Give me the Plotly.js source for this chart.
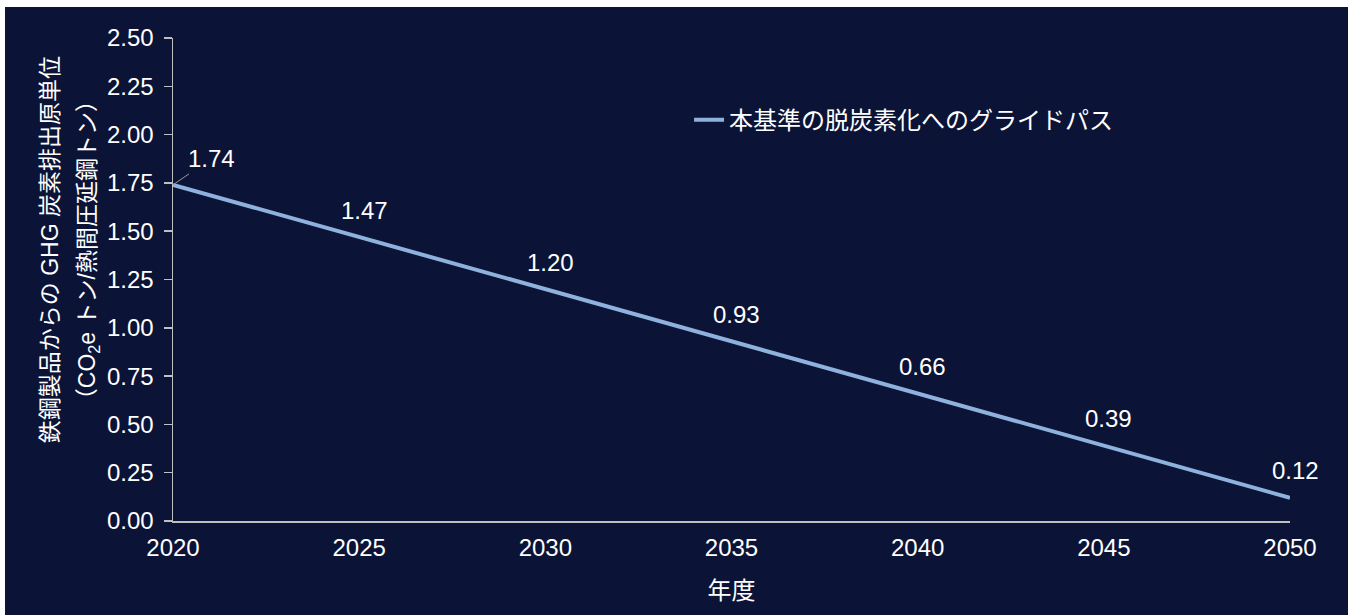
<!DOCTYPE html>
<html>
<head>
<meta charset="utf-8">
<script src="https://cdn.plot.ly/plotly-3.0.1.min.js"></script>
<style>
html,body{margin:0;padding:0;background:#ffffff;width:1354px;height:615px;overflow:hidden;}
#chart{position:absolute;left:5px;top:7px;width:1343px;height:608px;}
</style>
</head>
<body>
<div id="chart"></div>
<script>
const years = [2020, 2025, 2030, 2035, 2040, 2045, 2050];
const intensity = [1.74, 1.47, 1.20, 0.93, 0.66, 0.39, 0.12];
const seriesName = "本基準の脱炭素化へのグライドパス";
const yTickVals = [0, 0.25, 0.5, 0.75, 1.0, 1.25, 1.5, 1.75, 2.0, 2.25, 2.5];
const yTickText = ["0.00","0.25","0.50","0.75","1.00","1.25","1.50","1.75","2.00","2.25","2.50"];
const xTitle = "年度";
const yTitleLines = ["鉄鋼製品からの GHG 炭素排出原単位", "（CO<sub>2</sub>e トン/熱間圧延鋼トン）"];

const font = "Liberation Sans, Arial, Noto Sans CJK JP, sans-serif";
const bg = "#0b1437";
const fs = 24;

const annotations = years.map((yr, i) => {
  if (i === 0) {
    return {x: yr, y: intensity[i], text: intensity[i].toFixed(2), showarrow: true,
      arrowhead: 0, arrowwidth: 1, arrowcolor: "#9a9a9a", ax: 38, ay: -26, standoff: 0,
      font: {family: font, size: fs, color: "#ffffff"}};
  }
  return {x: yr, y: intensity[i], text: intensity[i].toFixed(2), showarrow: false,
    yshift: 27, xshift: 5, font: {family: font, size: fs, color: "#ffffff"}};
});
// y axis title, two lines
annotations.push({xref: "paper", yref: "paper", x: -0.110, y: 0.561, text: yTitleLines[0],
  textangle: -90, showarrow: false, xanchor: "center", yanchor: "middle",
  font: {family: font, size: 23, color: "#ffffff"}});
annotations.push({xref: "paper", yref: "paper", x: -0.076, y: 0.561, text: yTitleLines[1],
  textangle: -90, showarrow: false, xanchor: "center", yanchor: "middle",
  font: {family: font, size: 23, color: "#ffffff"}});

const trace = {x: years, y: intensity, type: "scatter", mode: "lines", name: seriesName,
  line: {color: "#8fb1dd", width: 4}, hoverinfo: "skip"};

const layout = {
  width: 1343, height: 608,
  paper_bgcolor: bg, plot_bgcolor: bg,
  margin: {l: 168, r: 58, t: 31, b: 94},
  font: {family: font, size: fs, color: "#ffffff"},
  showlegend: true,
  legend: {x: 0.462, y: 0.83, xanchor: "left", yanchor: "middle", bgcolor: "rgba(0,0,0,0)",
    font: {family: font, size: fs, color: "#ffffff"}, itemwidth: 30},
  xaxis: {range: [2020, 2050], tickvals: years, ticktext: years.map(String), showgrid: false,
    zeroline: false, showline: true, linecolor: "#bfbfbf", linewidth: 1.5, ticks: "",
    automargin: false, ticklabelstandoff: 5,
    tickfont: {family: font, size: fs, color: "#ffffff"},
    title: {text: xTitle, font: {family: font, size: fs, color: "#ffffff"}, standoff: 22}},
  yaxis: {range: [0, 2.5], tickvals: yTickVals, ticktext: yTickText, showgrid: false,
    zeroline: false, showline: true, linecolor: "#bfbfbf", linewidth: 1.5, ticks: "outside",
    ticklen: 8, tickcolor: "#bfbfbf", tickwidth: 1.5, automargin: false, ticklabelstandoff: 5,
    tickfont: {family: font, size: fs, color: "#ffffff"}},
  annotations: annotations
};

Plotly.newPlot("chart", [trace], layout, {displayModeBar: false, staticPlot: true});
</script>
</body>
</html>
